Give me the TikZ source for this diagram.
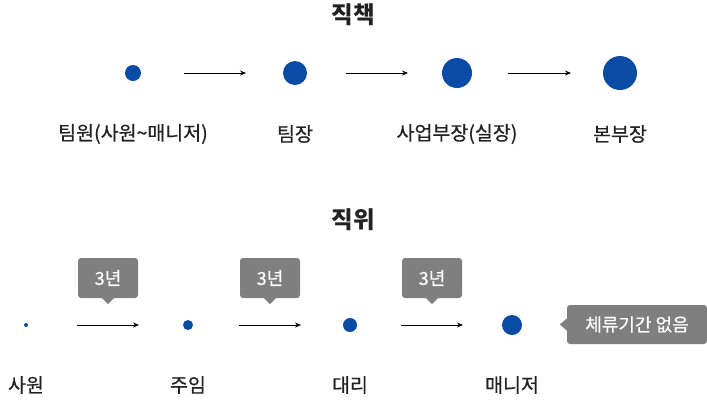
\documentclass[tikz,border=0pt]{standalone}
\usepackage{fontspec}
\setmainfont{Noto Sans CJK KR}
\newfontfamily\krmed{Noto Sans CJK KR}[FakeBold=0.6]
\usepackage{tikz}
\usetikzlibrary{arrows.meta,calc}
\definecolor{RankBlue}{HTML}{0A4BA5}
\definecolor{TagGray}{HTML}{7F7F7F}
\definecolor{LabelInk}{HTML}{222222}

\tikzset{
  dot/.style={circle,fill=RankBlue,inner sep=0pt,minimum size=#1},
  rank/.style={text=LabelInk,font=\krmed\fontsize{19.5}{22}\selectfont,anchor=center},
  heading/.style={text=LabelInk,font=\fontsize{23.5}{26}\selectfont\bfseries},
  arr/.style={-{Stealth[length=6pt,width=5pt]},line width=0.8pt,shorten <=51pt,shorten >=49pt},
  tag/.style={fill=TagGray,rounded corners=3pt,text=white,font=\krmed\fontsize{18}{20}\selectfont,inner sep=0pt}
}

\begin{document}
\begin{tikzpicture}[x=1pt,y=-1pt]
    \useasboundingbox (0,0) rectangle (707,400);
    % 직책
    \node[heading] (titleA) at (353,15) {직책};
    \foreach \x/\d/\name/\txt in {133/16/a1/팀원(사원\textasciitilde 매니저),295/24/a2/팀장,457/30/a3/사업부장(실장),620/34/a4/본부장} {
     \node[dot=\d pt] (\name) at (\x,73) {};
     \node[rank] (\name l) at (\x,134) {\txt};
    }
    \draw[arr] (a1.center) -- (a2.center);
    \draw[arr] (a2.center) -- (a3.center);
    \draw[arr] (a3.center) -- (a4.center);
    % 직위
    \node[heading] (titleB) at (353,220) {직위};
    \foreach \x/\d/\name/\txt in {26/4/b1/사원,188/10/b2/주임,350/14/b3/대리,512/20/b4/매니저} {
     \node[dot=\d pt] (\name) at (\x,325) {};
     \node[rank] (\name l) at (\x,385) {\txt};
    }
    \draw[arr] (b1.center) -- (b2.center);
    \draw[arr] (b2.center) -- (b3.center);
    \draw[arr] (b3.center) -- (b4.center);
    % 3년 tags
    \foreach \x/\name in {108/t1,270/t2,432/t3} {
     \node[tag,minimum width=60pt,minimum height=40pt] (\name) at (\x,278) {3년};
     \fill[TagGray] ($(\name.south)+(-6,0)$) -- ($(\name.south)+(0,6)$) -- ($(\name.south)+(6,0)$) -- cycle;
    }
    \node[tag,minimum width=140pt,minimum height=39pt] (stay) at (637,324.5) {체류기간 없음};
    \fill[TagGray] ($(stay.west)+(0,-6)$) -- ($(stay.west)+(-7,0)$) -- ($(stay.west)+(0,6)$) -- cycle;
\end{tikzpicture}
\end{document}
